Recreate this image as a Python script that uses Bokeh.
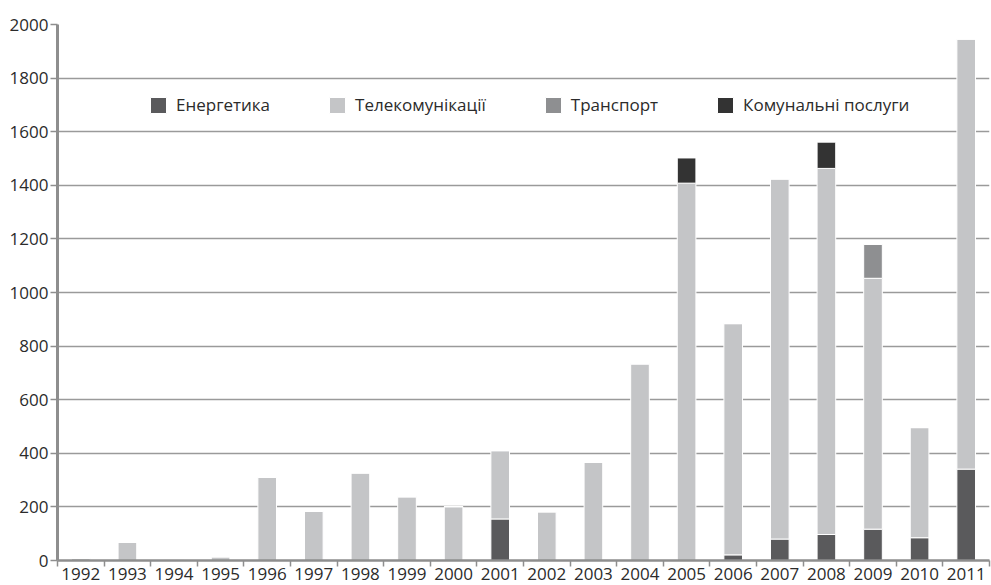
from bokeh.plotting import figure
from bokeh.models import FixedTicker, ColumnDataSource, Legend, LegendItem
from bokeh.embed import file_html
from bokeh.resources import INLINE

years = ["1992", "1993", "1994", "1995", "1996", "1997", "1998", "1999", "2000", "2001",
         "2002", "2003", "2004", "2005", "2006", "2007", "2008", "2009", "2010", "2011"]
energy = [0, 0, 0, 0, 0, 0, 0, 0, 0, 155, 0, 0, 0, 0, 21, 80, 97, 117, 85, 341]
telecom = [8, 68, 6, 14, 311, 183, 327, 238, 201, 255, 182, 366, 734, 1408, 863, 1344, 1366, 936, 411, 1605]
transport = [0, 0, 0, 0, 0, 0, 0, 0, 0, 0, 0, 0, 0, 0, 0, 0, 0, 127, 0, 0]
communal = [0, 0, 0, 0, 0, 0, 0, 0, 0, 0, 0, 0, 0, 94, 0, 0, 98, 0, 0, 0]
y_ticks = [0, 200, 400, 600, 800, 1000, 1200, 1400, 1600, 1800, 2000]

series = ["energy", "telecom", "transport", "communal"]
names = ["Енергетика", "Телекомунікації", "Транспорт", "Комунальні послуги"]
colors = ["#5a5a5c", "#c4c5c7", "#8e8f91", "#333333"]

idx = list(range(len(years)))
source = ColumnDataSource(dict(x=idx, energy=energy, telecom=telecom,
                               transport=transport, communal=communal))

FONT = "Open Sans"
TXT = "#2b2b2b"

p = figure(width=991, height=585, output_backend="svg", toolbar_location=None,
           x_range=(-0.5, len(years) - 0.5), y_range=(0, 2000),
           min_border_left=57, min_border_right=2, min_border_top=24, min_border_bottom=25)
p.outline_line_color = None

renderers = p.vbar_stack(series, x="x", width=0.4, source=source, color=colors,
                         line_color="white", line_width=1)

# axes
p.xaxis.ticker = FixedTicker(ticks=idx, minor_ticks=[i - 0.5 for i in range(len(years) + 1)])
p.xaxis.major_label_overrides = {i: y for i, y in zip(idx, years)}
p.xaxis.major_tick_out = 0
p.xaxis.major_tick_in = 0
p.xaxis.minor_tick_out = 6
p.xaxis.minor_tick_in = 0
p.xaxis.minor_tick_line_color = "#8e8e8e"
p.xaxis.minor_tick_line_width = 1.5
p.xaxis.axis_line_color = "#8e8e8e"
p.xaxis.axis_line_width = 2.5
p.xaxis.major_label_standoff = 1
p.xaxis.major_label_text_font = FONT
p.xaxis.major_label_text_font_size = "17px"
p.xaxis.major_label_text_color = TXT

p.yaxis.ticker = FixedTicker(ticks=y_ticks)
p.yaxis.major_tick_out = 7
p.yaxis.major_tick_in = 0
p.yaxis.minor_tick_line_color = None
p.yaxis.major_tick_line_color = "#8e8e8e"
p.yaxis.major_tick_line_width = 1.5
p.yaxis.axis_line_color = "#8e8e8e"
p.yaxis.axis_line_width = 3
p.yaxis.major_label_standoff = 2
p.yaxis.major_label_text_font = FONT
p.yaxis.major_label_text_font_size = "17px"
p.yaxis.major_label_text_color = TXT

p.xgrid.grid_line_color = None
p.ygrid.ticker = FixedTicker(ticks=y_ticks)
p.ygrid.grid_line_color = "#9a9a9a"
p.ygrid.grid_line_width = 1.4

legend = Legend(items=[LegendItem(label=n, renderers=[r]) for n, r in zip(names, renderers)],
                orientation="horizontal", location=(91, 444),
                glyph_width=20, glyph_height=20, label_standoff=8, spacing=57,
                padding=0, margin=0, border_line_color=None, background_fill_alpha=0,
                label_text_font=FONT, label_text_font_size="17px", label_text_color=TXT)
p.add_layout(legend)

open("out.html", "w").write(file_html(p, INLINE))
